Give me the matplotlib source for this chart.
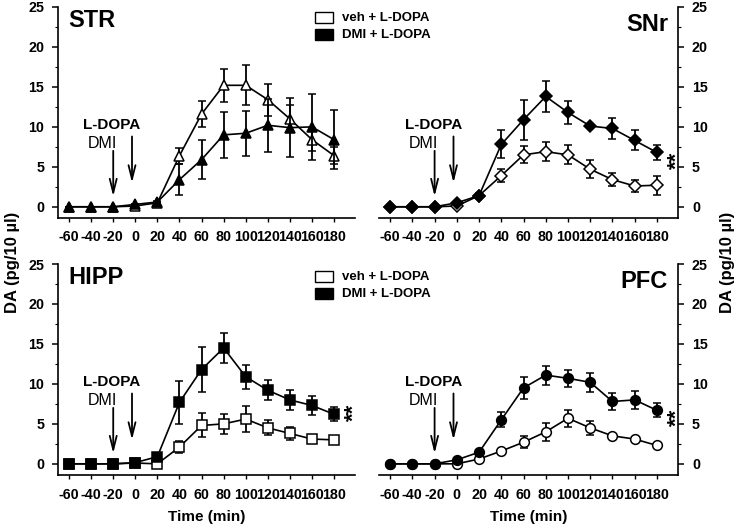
import numpy as np
import matplotlib
matplotlib.use('Agg')
import matplotlib.pyplot as plt
from matplotlib.patches import Rectangle

plt.rcParams['font.family'] = ['Liberation Sans', 'DejaVu Sans']
plt.rcParams['font.weight'] = 'bold'

time = [-60, -40, -20, 0, 20, 40, 60, 80, 100, 120, 140, 160, 180]
xtick_labels = [str(t) for t in time]

# STR (triangles)
str_veh = [0, 0, 0, 0.1, 0.5, 6.4, 11.6, 15.2, 15.2, 13.4, 11.0, 8.4, 6.4]
str_veh_err = [0, 0, 0, 0, 0.1, 1.0, 1.6, 2.1, 2.5, 2.0, 1.7, 1.4, 1.1]
str_dmi = [0, 0, 0, 0.3, 0.6, 3.4, 5.9, 9.0, 9.2, 10.2, 9.9, 10.0, 8.4]
str_dmi_err = [0, 0, 0, 0, 0.1, 1.9, 2.4, 2.9, 2.8, 3.3, 3.7, 4.1, 3.7]

# SNr (diamonds)
snr_veh = [0, 0, 0, 0.1, 1.4, 3.9, 6.5, 6.9, 6.5, 4.7, 3.4, 2.6, 2.7]
snr_veh_err = [0, 0, 0, 0, 0.2, 0.85, 1.05, 1.2, 1.2, 1.1, 0.85, 0.75, 1.2]
snr_dmi = [0, 0, 0, 0.5, 1.4, 7.8, 10.9, 13.8, 11.8, 10.1, 9.8, 8.3, 6.8]
snr_dmi_err = [0, 0, 0, 0, 0.3, 1.75, 2.5, 1.95, 1.4, 0.3, 1.3, 1.25, 0.9]

# HIPP (squares)
hipp_veh = [0, 0, 0, 0.1, 0.0, 2.1, 4.8, 5.0, 5.6, 4.5, 3.8, 3.1, 3.0]
hipp_veh_err = [0, 0, 0, 0, 0, 0.7, 1.5, 1.25, 1.6, 0.95, 0.8, 0.3, 0.2]
hipp_dmi = [0, 0, 0, 0.15, 0.9, 7.7, 11.8, 14.5, 10.9, 9.2, 8.0, 7.3, 6.2]
hipp_dmi_err = [0, 0, 0, 0, 0.1, 2.7, 2.8, 1.9, 1.5, 1.25, 1.3, 1.2, 0.85]

# PFC (circles)
pfc_veh = [0, 0, 0, 0.0, 0.6, 1.6, 2.7, 4.0, 5.7, 4.5, 3.5, 3.1, 2.3]
pfc_veh_err = [0, 0, 0, 0, 0, 0.2, 0.75, 1.1, 1.05, 0.9, 0.2, 0.2, 0.15]
pfc_dmi = [0, 0, 0, 0.5, 1.45, 5.5, 9.5, 11.1, 10.7, 10.2, 7.8, 8.0, 6.7]
pfc_dmi_err = [0, 0, 0, 0, 0.1, 0.95, 1.4, 1.2, 1.05, 1.2, 1.05, 1.1, 0.9]

panels = [
    ('STR', '^', str_veh, str_veh_err, str_dmi, str_dmi_err, None, 'left', 'top'),
    ('SNr', 'D', snr_veh, snr_veh_err, snr_dmi, snr_dmi_err, 5.8, 'right', 'top'),
    ('HIPP', 's', hipp_veh, hipp_veh_err, hipp_dmi, hipp_dmi_err, 6.5, 'left', 'bottom'),
    ('PFC', 'o', pfc_veh, pfc_veh_err, pfc_dmi, pfc_dmi_err, 5.8, 'right', 'bottom'),
]
msizes = {'^': 7, 'D': 6.3, 's': 6.5, 'o': 7}

fig = plt.figure(figsize=(7.4, 5.25), dpi=100)
pos = {('left', 'top'): [0.0784, 0.5848, 0.4014, 0.4019],
       ('right', 'top'): [0.5122, 0.5848, 0.4040, 0.4019],
       ('left', 'bottom'): [0.0784, 0.0952, 0.4014, 0.4019],
       ('right', 'bottom'): [0.5122, 0.0952, 0.4040, 0.4019]}

for name, mk, veh, veh_err, dmi, dmi_err, star_y, side, row in panels:
    ax = fig.add_axes(pos[(side, row)])
    ms = msizes[mk]
    ax.errorbar(time, veh, yerr=veh_err, fmt='-', marker=mk, color='black',
                mfc='white', mec='black', ms=ms, mew=1.1, lw=1.2,
                elinewidth=1.3, capsize=3, capthick=1.3, zorder=3)
    ax.errorbar(time, dmi, yerr=dmi_err, fmt='-', marker=mk, color='black',
                mfc='black', mec='black', ms=ms, mew=1.1, lw=1.2,
                elinewidth=1.3, capsize=3, capthick=1.3, zorder=4)
    ax.set_xlim(-70, 199)
    ax.set_ylim(-1.4, 25)
    ax.set_xticks(time)
    ax.set_xticklabels(xtick_labels)
    ax.set_yticks([0, 5, 10, 15, 20, 25])
    ax.set_yticks(np.arange(2.5, 25, 5), minor=True)
    for sp in ['top', 'left', 'right']:
        ax.spines[sp].set_visible(False)
    ax.spines[side].set_visible(True)
    for sp in ax.spines.values():
        sp.set_linewidth(1.2)
    if side == 'right':
        ax.yaxis.tick_right()
        ax.yaxis.set_label_position('right')
    ax.tick_params(axis='y', which='major', length=4, width=1.1, pad=6, labelsize=10.3)
    ax.tick_params(axis='y', which='minor', length=2.5, width=0.8)
    ax.tick_params(axis='x', length=3, width=1.0, pad=6, labelsize=10.3)
    for lab in ax.get_xticklabels() + ax.get_yticklabels():
        lab.set_fontweight('bold')

    if side == 'left':
        ax.text(-61, 23.3, name, fontsize=17, fontweight='bold', ha='left', va='center')
    else:
        ax.text(190, 22.8, name, fontsize=17, fontweight='bold', ha='right', va='center')

    # injection arrows
    ax.text(-21, 9.4, 'L-DOPA', fontsize=11, fontweight='bold', ha='center', va='bottom')
    ax.text(-30, 7.0, 'DMI', fontsize=11.5, fontweight='normal', ha='center', va='bottom')
    ax.annotate('', xy=(-20, 1.3), xytext=(-20, 7.0),
                arrowprops=dict(arrowstyle='->,head_length=1.0,head_width=0.25',
                                lw=1.3, color='black', shrinkA=0, shrinkB=0))
    ax.annotate('', xy=(-3, 3.0), xytext=(-3, 8.8),
                arrowprops=dict(arrowstyle='->,head_length=1.0,head_width=0.25',
                                lw=1.3, color='black', shrinkA=0, shrinkB=0))

    if star_y is not None:
        ax.text(198, star_y, '**', fontsize=16, fontweight='bold', rotation=90,
                ha='center', va='center')

    if row == 'bottom':
        ax.set_xlabel('Time (min)', fontsize=11, fontweight='bold', labelpad=6)

# legends
for y0 in [0.9695, 0.4762]:
    fig.add_artist(Rectangle((0.4257, y0 - 0.013), 0.0243, 0.021, transform=fig.transFigure,
                             facecolor='white', edgecolor='black', lw=1.0))
    fig.add_artist(Rectangle((0.4257, y0 - 0.046), 0.0243, 0.021, transform=fig.transFigure,
                             facecolor='black', edgecolor='black', lw=1.0))
    fig.text(0.462, y0 - 0.003, 'veh + L-DOPA', fontsize=9.5, fontweight='bold', va='center')
    fig.text(0.462, y0 - 0.036, 'DMI + L-DOPA', fontsize=9.5, fontweight='bold', va='center')

fig.text(0.017, 0.5, 'DA (pg/10 µl)', rotation=90, fontsize=12, fontweight='bold',
         ha='center', va='center')
fig.text(0.983, 0.5, 'DA (pg/10 µl)', rotation=90, fontsize=12, fontweight='bold',
         ha='center', va='center')

fig.savefig('out.png', dpi=100)
